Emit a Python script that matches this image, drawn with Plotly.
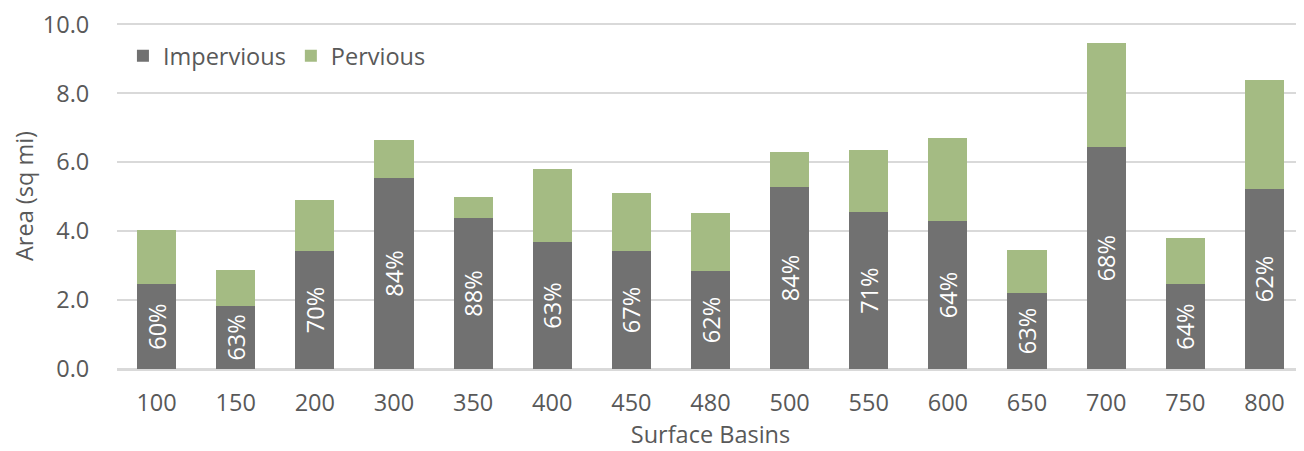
import plotly.graph_objects as go

basins = ["100", "150", "200", "300", "350", "400", "450", "480", "500", "550", "600", "650", "700", "750", "800"]
impervious = [2.46, 1.83, 3.42, 5.54, 4.38, 3.68, 3.42, 2.84, 5.28, 4.55, 4.29, 2.20, 6.43, 2.46, 5.22]
total = [4.03, 2.87, 4.90, 6.64, 4.99, 5.80, 5.10, 4.52, 6.29, 6.35, 6.70, 3.45, 9.45, 3.80, 8.38]
pct_labels = ["60%", "63%", "70%", "84%", "88%", "63%", "67%", "62%", "84%", "71%", "64%", "63%", "68%", "64%", "62%"]
pervious = [round(t - i, 2) for t, i in zip(total, impervious)]
y_ticks = [0, 2, 4, 6, 8, 10]

FONT = "Open Sans"
GREY_TXT = "#595959"
FS = 23.5

fig = go.Figure()
fig.add_trace(go.Bar(
    x=basins, y=impervious, name="Impervious",
    marker=dict(color="#717171", line=dict(width=0)),
    text=pct_labels, textposition="inside", insidetextanchor="middle",
    textangle=-90, constraintext="none",
    textfont=dict(color="white", size=FS, family=FONT),
    hoverinfo="skip",
))
fig.add_trace(go.Bar(
    x=basins, y=pervious, name="Pervious",
    marker=dict(color="#A4BB83", line=dict(width=0)),
    hoverinfo="skip",
))

# page body has an 8px margin, so the figure is offset by 8px
fig.update_layout(
    barmode="stack",
    bargap=0.505,
    width=1296, height=443,
    margin=dict(l=109, r=0, t=15, b=82),
    paper_bgcolor="white", plot_bgcolor="white",
    font=dict(family=FONT, color=GREY_TXT, size=FS),
    showlegend=True,
    legend=dict(
        orientation="h", x=0.005, y=0.905, xanchor="left", yanchor="middle",
        font=dict(size=FS, color=GREY_TXT, family=FONT),
        bgcolor="rgba(0,0,0,0)", itemwidth=30, traceorder="normal",
    ),
    xaxis=dict(
        title=dict(text="Surface Basins", font=dict(size=FS, color=GREY_TXT), standoff=2),
        tickfont=dict(size=FS, color=GREY_TXT),
        showline=True, linecolor="#D9D9D9", linewidth=1.5,
        ticks="outside", ticklen=12, tickcolor="rgba(0,0,0,0)",
        showgrid=False, automargin=False,
    ),
    yaxis=dict(
        title=dict(text="Area (sq mi)", font=dict(size=FS, color=GREY_TXT), standoff=22),
        range=[0, 10.04], tickmode="array", tickvals=y_ticks, tickformat=".1f",
        tickfont=dict(size=FS, color=GREY_TXT), ticklabeloverflow="allow",
        showgrid=True, gridcolor="#D9D9D9", gridwidth=1.5,
        zeroline=True, zerolinecolor="#D9D9D9", zerolinewidth=1.5,
        showline=False, ticks="outside", ticklen=22, tickcolor="rgba(0,0,0,0)",
        automargin=False,
    ),
)

fig.write_html("out.html")
